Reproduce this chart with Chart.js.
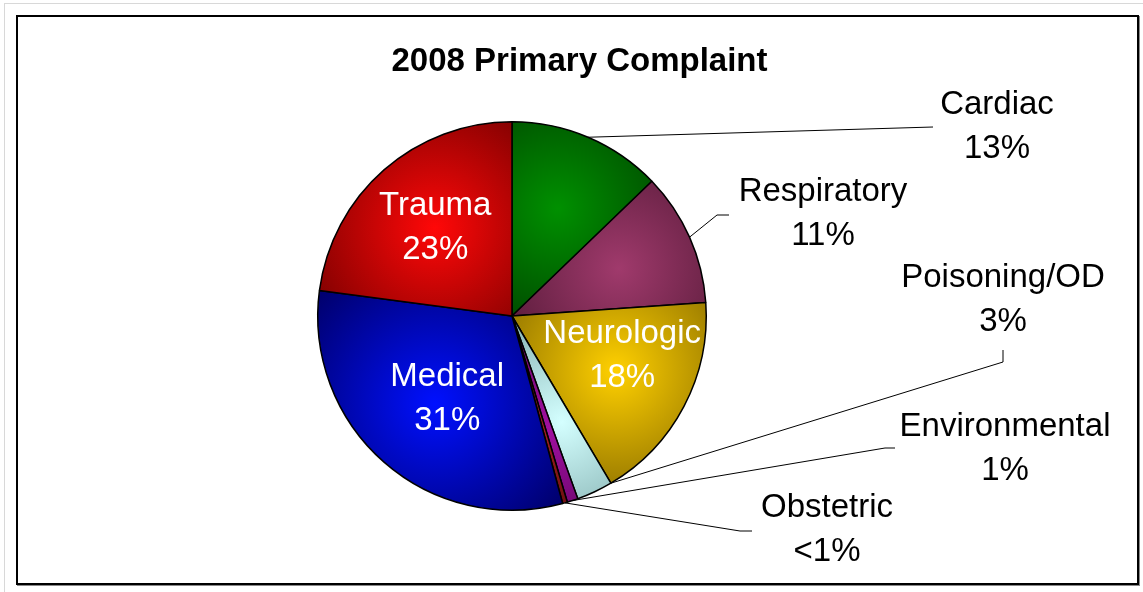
<!DOCTYPE html>
<html>
<head>
<meta charset="utf-8">
<title>2008 Primary Complaint</title>
<script src="https://cdn.jsdelivr.net/npm/chart.js@4.4.1/dist/chart.umd.min.js"></script>
<style>
  html, body { margin: 0; padding: 0; background: #fff; }
  body { width: 1143px; height: 592px; position: relative; overflow: hidden; }
  #edge { position: absolute; left: 4px; top: 3px; width: 1139px; height: 589px;
          border-left: 1px solid #d8d8d8; border-top: 1px solid #d8d8d8; }
  #frame { position: absolute; left: 16px; top: 15px; width: 1119px; height: 566px;
           border: 2px solid #000; box-shadow: 1px 1px 0 #888; }
  #myChart { position: absolute; left: 0; top: 0; }
</style>
</head>
<body>
<div id="edge"></div>
<div id="frame"></div>
<canvas id="myChart" width="1143" height="592"></canvas>
<script>
// slices clockwise from 12 o'clock
var categories = ['Cardiac', 'Respiratory', 'Neurologic', 'Poisoning/OD', 'Environmental', 'Obstetric', 'Medical', 'Trauma'];
var shares = [12.8, 11.1, 17.6, 3.0, 0.9, 0.4, 31.3, 22.9];
var pctLabels = ['13%', '11%', '18%', '3%', '1%', '<1%', '31%', '23%'];
var chartTitle = '2008 Primary Complaint';

var lightColors = ['#009000', '#a03a6c', '#ffd000', '#d4ffff', '#a010a0', '#a02020', '#0010ff', '#ff0808'];
var darkColors  = ['#003800', '#4a1530', '#7a6000', '#6a9696', '#500050', '#400000', '#000070', '#700000'];

var FONT = '"Liberation Sans", Arial, sans-serif';

// labels inside the pie (index -> nudge in px)
var insideLabels = { 2: [7, -14], 6: [12, -5], 7: [0, 0] };
// labels outside: text centre and leader line points, offsets from pie centre
// attach: where on the slice arc the line starts (0 start, 0.5 middle, 1 end)
var outsideLabels = {
  0: { text: [485, -211], line: [[421, -189]], attach: 0.5 },
  1: { text: [311, -124], line: [[205, -101], [217, -101]], attach: 0.5 },
  3: { text: [491, -38], line: [[491, 34], [491, 46]].reverse(), attach: 0 },
  4: { text: [493, 111], line: [[373, 132], [383, 132]], attach: 0.5 },
  5: { text: [315, 192], line: [[228, 215], [240, 215]], attach: 0.5 }
};

var total = shares.reduce(function (a, b) { return a + b; }, 0);

var sliceFill = function (ctx) {
  var chart = ctx.chart, a = chart.chartArea, i = ctx.dataIndex;
  if (!a) return lightColors[i];
  var cx = (a.left + a.right) / 2, cy = (a.top + a.bottom) / 2;
  var r = Math.min(a.width, a.height) / 2;
  var before = 0;
  for (var k = 0; k < i; k++) before += shares[k];
  var mid = (before + shares[i] / 2) / total * Math.PI * 2 - Math.PI / 2;
  var gx = cx + Math.cos(mid) * r * 0.6, gy = cy + Math.sin(mid) * r * 0.6;
  var g = chart.ctx.createRadialGradient(gx, gy, 0, gx, gy, r * 0.8);
  g.addColorStop(0, lightColors[i]);
  g.addColorStop(1, darkColors[i]);
  return g;
};

var labelPlugin = {
  id: 'pieLabels',
  afterDraw: function (chart) {
    var ctx = chart.ctx;
    var arcs = chart.getDatasetMeta(0).data;
    var cx = arcs[0].x, cy = arcs[0].y;
    ctx.save();

    // title
    ctx.fillStyle = '#000';
    ctx.font = 'bold 33px ' + FONT;
    ctx.textAlign = 'center';
    ctx.textBaseline = 'middle';
    ctx.fillText(chartTitle, chart.width / 2 + 8, 62);

    ctx.font = '33px ' + FONT;
    var lh = 44;

    arcs.forEach(function (arc, i) {
      var r = arc.outerRadius;
      if (insideLabels[i]) {
        var mid = (arc.startAngle + arc.endAngle) / 2;
        var x = cx + Math.cos(mid) * r * 0.6 + insideLabels[i][0];
        var y = cy + Math.sin(mid) * r * 0.6 + insideLabels[i][1];
        ctx.fillStyle = '#fff';
        ctx.fillText(categories[i], x, y - lh / 2);
        ctx.fillText(pctLabels[i], x, y + lh / 2);
      } else if (outsideLabels[i]) {
        var o = outsideLabels[i];
        var ang = arc.startAngle + (arc.endAngle - arc.startAngle) * o.attach;
        ctx.strokeStyle = '#000';
        ctx.lineWidth = 1;
        ctx.beginPath();
        ctx.moveTo(cx + Math.cos(ang) * r, cy + Math.sin(ang) * r);
        o.line.forEach(function (p) { ctx.lineTo(cx + p[0], cy + p[1]); });
        ctx.stroke();
        ctx.fillStyle = '#000';
        ctx.fillText(categories[i], cx + o.text[0], cy + o.text[1]);
        ctx.fillText(pctLabels[i], cx + o.text[0], cy + o.text[1] + lh);
      }
    });
    ctx.restore();
  }
};

var ctx = document.getElementById('myChart').getContext('2d');
var myChart = new Chart(ctx, {
  type: 'pie',
  data: {
    labels: categories,
    datasets: [{
      data: shares,
      backgroundColor: sliceFill,
      borderColor: '#000',
      borderWidth: 1.5
    }]
  },
  options: {
    responsive: false,
    devicePixelRatio: 1,
    animation: false,
    layout: { padding: { left: 317, right: 436, top: 121, bottom: 81 } },
    plugins: {
      legend: { display: false },
      tooltip: { enabled: false },
      title: { display: false }
    }
  },
  plugins: [labelPlugin]
});
</script>
</body>
</html>
